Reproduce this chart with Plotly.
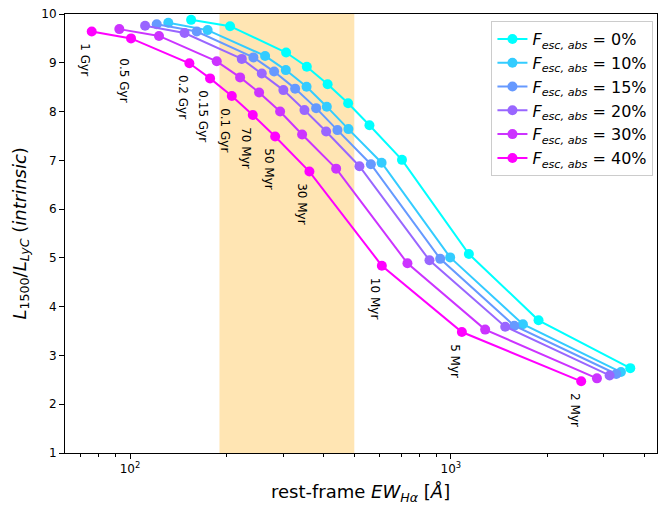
import math
import plotly.graph_objects as go

# ---- data ----
ages = ["1 Gyr", "0.5 Gyr", "0.2 Gyr", "0.15 Gyr", "0.1 Gyr", "70 Myr",
        "50 Myr", "30 Myr", "10 Myr", "5 Myr", "2 Myr"]

fesc_labels = ["0%", "10%", "15%", "20%", "30%", "40%"]

ew_f0 = [155.0, 205.0, 306.5, 355.6, 412.9, 478.4, 557.5, 704.0, 1138, 1876, 3624]
ratio_f0 = [9.88, 9.75, 9.21, 8.92, 8.56, 8.17, 7.72, 7.01, 5.08, 3.72, 2.74]

ew_f10 = [131.6, 174.5, 263.6, 305.9, 355.0, 410.5, 479.4, 608.3, 995, 1677, 3389]
ratio_f10 = [9.82, 9.67, 9.14, 8.85, 8.51, 8.10, 7.64, 6.95, 5.01, 3.64, 2.66]

ew_f15 = [121.1, 161.4, 242.4, 281.2, 327.0, 380.2, 443.1, 563.1, 926.3, 1576, 3277]
ratio_f15 = [9.79, 9.64, 9.11, 8.82, 8.47, 8.07, 7.62, 6.92, 4.98, 3.61, 2.62]

ew_f20 = [111.4, 147.9, 223.0, 257.4, 300.6, 349.6, 408.5, 518.8, 857.6, 1477, 3124]
ratio_f20 = [9.76, 9.61, 9.08, 8.78, 8.44, 8.03, 7.59, 6.88, 4.95, 3.59, 2.59]

ew_f30 = [92.6, 123.1, 186.3, 220.3, 252.5, 293.6, 343.8, 438.9, 732.2, 1279, 2853]
ratio_f30 = [9.69, 9.55, 9.03, 8.70, 8.39, 8.00, 7.53, 6.83, 4.89, 3.53, 2.53]

ew_f40 = [75.96, 100.7, 153.1, 177.6, 207.6, 241.3, 283.3, 362.3, 609.3, 1082, 2548]
ratio_f40 = [9.64, 9.50, 8.99, 8.68, 8.32, 7.93, 7.49, 6.77, 4.84, 3.48, 2.47]

band_lo, band_hi = 190, 500

x_tick_vals = [100, 1000]
x_tick_text = ["10<sup>2</sup>", "10<sup>3</sup>"]
x_minor_vals = [70, 80, 90, 200, 300, 400, 500, 600, 700, 800, 900,
                2000, 3000, 4000]
y_tick_vals = list(range(1, 11))

x_title = "rest-frame <i>EW</i><sub><i>Hα</i></sub> [<i>Å</i>]"
y_title = "<i>L</i><sub>1500</sub>/<i>L</i><sub><i>LyC</i></sub> (<i>intrinsic</i>)"

# ---- styling ----
colors = ["#00ffff", "#33ccff", "#6699ff", "#9966ff", "#cc33ff", "#ff00ff"]
FONT = "DejaVu Sans"

series = [(ew_f0, ratio_f0), (ew_f10, ratio_f10), (ew_f15, ratio_f15),
          (ew_f20, ratio_f20), (ew_f30, ratio_f30), (ew_f40, ratio_f40)]

fig = go.Figure()
for (xs, ys), lab, c in zip(series, fesc_labels, colors):
    fig.add_trace(go.Scatter(
        x=xs, y=ys, mode="lines+markers",
        line=dict(color=c, width=2),
        marker=dict(color=c, size=10),
        name="<i>F</i><sub><i>esc, abs</i></sub> = " + lab,
    ))

fig.add_vrect(x0=band_lo, x1=band_hi, fillcolor="rgb(255,229,179)",
              opacity=1, line_width=0, layer="below")

yshifts = [-10, -18, -10, -10, -10, -10, -10, -10, -10, -10, -10]
for a, xv, yv, ys in zip(ages, ew_f40, ratio_f40, yshifts):
    fig.add_annotation(x=math.log10(xv), y=yv, xref="x", yref="y",
                       text=a, showarrow=False, textangle=90,
                       xanchor="center", yanchor="top",
                       xshift=-7, yshift=ys,
                       font=dict(family=FONT, size=12, color="black"))

# axis titles as annotations for precise placement
fig.add_annotation(x=0.4986, y=-0.09, xref="paper", yref="paper",
                   text=x_title, showarrow=False, xanchor="center",
                   yanchor="middle", font=dict(family=FONT, size=18, color="black"))
fig.add_annotation(x=-0.076, y=0.50, xref="paper", yref="paper",
                   text=y_title, showarrow=False, textangle=-90,
                   xanchor="center", yanchor="middle",
                   font=dict(family=FONT, size=18, color="black"))

fig.update_layout(
    width=665, height=506,
    margin=dict(l=65, r=8, t=14, b=53),
    plot_bgcolor="white", paper_bgcolor="white",
    font=dict(family=FONT, size=12, color="black"),
    legend=dict(x=0.994, y=0.984, xanchor="right", yanchor="top",
                bgcolor="rgba(255,255,255,0.8)", bordercolor="#cccccc",
                borderwidth=1, font=dict(family=FONT, size=16)),
)
fig.update_xaxes(
    type="log", range=[math.log10(62.7), math.log10(4390)],
    tickmode="array", tickvals=x_tick_vals, ticktext=x_tick_text,
    ticks="outside", ticklen=5, tickcolor="black",
    minor=dict(tickmode="array", tickvals=x_minor_vals, ticks="outside",
               ticklen=3, tickcolor="black"),
    showline=True, linecolor="black", linewidth=1, mirror=True,
    showgrid=False, zeroline=False, automargin=False,
)
fig.update_yaxes(
    range=[1, 10], tickmode="array", tickvals=y_tick_vals,
    ticks="outside", ticklen=5, tickcolor="black",
    showline=True, linecolor="black", linewidth=1, mirror=True,
    showgrid=False, zeroline=False, automargin=False,
)

fig.write_html("out.html",
               config={"displayModeBar": False},
               post_script="document.body.style.margin='0';"
                           "document.body.style.overflow='hidden';")
